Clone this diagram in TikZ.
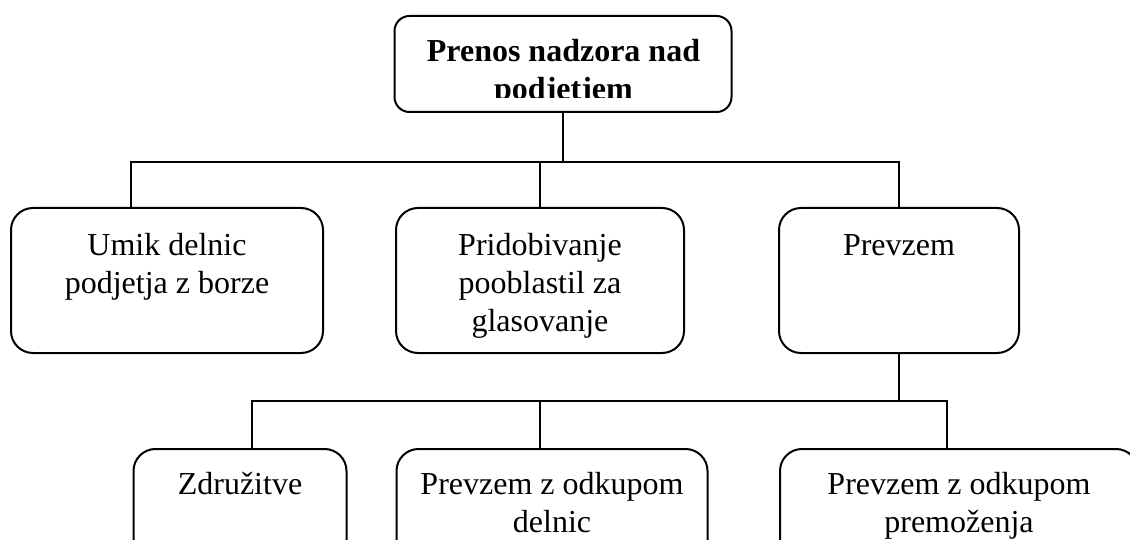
\documentclass[tikz,border=0pt]{standalone}
\usepackage{fontspec}
\setmainfont{Liberation Serif}
\usepackage{tikz}
\usetikzlibrary{positioning}

\newcommand{\topgap}{\rule{0pt}{33pt}}
\newcommand{\blankline}{\vphantom{g}}

\begin{document}
\begin{tikzpicture}[
    x=1pt, y=-1pt,
    box/.style={draw, rounded corners=22pt, inner sep=0pt, align=center, line width=2pt, font=\fontsize{32}{38}\selectfont},
    link/.style={line width=2pt}
]
    \clip (0, 0) rectangle (1130, 540);

    % Root
    \node[box, rounded corners=15pt, minimum width=337pt, minimum height=96pt] (root) at (563, 64) {};
    \begin{scope}
        \clip (395, 16) rectangle (732, 98);
        \node[align=center, font=\fontsize{32}{38}\selectfont\bfseries] (title) at (563.5, 73) {Prenos nadzora nad\\podjetjem};
    \end{scope}

    % Level 1
    \node[box, minimum width=312pt, minimum height=145pt] (umik) at (167, 280.5) {\topgap Umik delnic\\podjetja z borze\\\blankline};
    \node[box, minimum width=288pt, minimum height=145pt] (prido) at (540, 280.5) {\topgap Pridobivanje\\pooblastil za\\glasovanje};
    \node[box, minimum width=240pt, minimum height=145pt] (prevzem) at (899, 280.5) {\topgap Prevzem\\\blankline\\\blankline};

    % Level 2
    \node[box, minimum width=213pt, minimum height=152pt] (zdr) at (240, 525) {Združitve\\\blankline\\\blankline};
    \node[box, minimum width=311pt, minimum height=152pt] (odkdel) at (552, 525) {Prevzem z odkupom\\delnic\\\blankline};
    \node[box, minimum width=358pt, minimum height=152pt] (odkpre) at (959, 525) {Prevzem z odkupom\\premoženja\\\blankline};

    % Connectors
    \coordinate (hub) at (563, 162);
    \coordinate (hubb) at (899, 401);
    \draw[link] (root.south) -- (hub);
    \draw[link] ([xshift=-36pt]umik.north) |- (hub) -| (prevzem.north);
    \draw[link] (prido.north) -- (prido.north |- hub);
    \draw[link] (prevzem.south) -- (hubb);
    \draw[link] ([xshift=12pt]zdr.north) |- (hubb) -| ([xshift=-12pt]odkpre.north);
    \draw[link] ([xshift=-12pt]odkdel.north) -- ([xshift=-12pt]odkdel.north |- hubb);
\end{tikzpicture}
\end{document}
